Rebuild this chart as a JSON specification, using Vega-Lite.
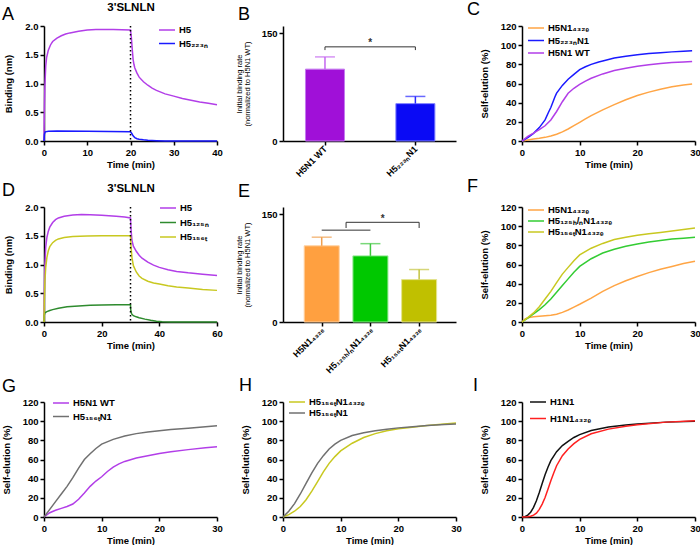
{
 "$schema": "https://vega.github.io/schema/vega-lite/v6.json",
 "padding": {"left": 1, "top": 1, "right": 0, "bottom": 0},
 "background": "white",
 "config": {
  "font": "Liberation Sans",
  "view": {"stroke": null},
  "axis": {"grid": false, "domainColor": "#000", "domainWidth": 1.5, "tickColor": "#000", "tickWidth": 1.5, "tickSize": 4, "labelFont": "Liberation Sans", "labelFontSize": 9.5, "labelFontWeight": "bold", "labelColor": "#000", "labelPadding": 2, "titleFont": "Liberation Sans", "titleFontSize": 9.5, "titleFontWeight": "bold", "titleColor": "#000", "labelFlush": false, "labelOverlap": false, "titlePadding": 3},
  "axisY": {"titlePadding": 11},
  "legend": {"labelFont": "Liberation Sans", "labelFontSize": 9.5, "labelFontWeight": "bold", "labelColor": "#000", "symbolType": "M-1.6,0H1.6", "symbolSize": 100, "symbolStrokeWidth": 1.5, "labelOffset": 6, "rowPadding": 2, "padding": 0, "orient": "none"},
  "title": {"font": "Liberation Sans", "fontSize": 18, "fontWeight": "normal", "anchor": "start", "frame": "group", "color": "#000", "baseline": "alphabetic"},
  "line": {"strokeWidth": 1.5}
 },
 "datasets": {
  "a": [
   {"s":"H5","t":0,"v":0},{"s":"H5","t":0.1,"v":0.6},{"s":"H5","t":0.2,"v":0.95},{"s":"H5","t":0.4,"v":1.3},{"s":"H5","t":0.6,"v":1.45},{"s":"H5","t":1,"v":1.58},{"s":"H5","t":1.5,"v":1.67},{"s":"H5","t":2,"v":1.73},{"s":"H5","t":3,"v":1.79},{"s":"H5","t":4,"v":1.83},{"s":"H5","t":5,"v":1.86},{"s":"H5","t":6,"v":1.88},{"s":"H5","t":8,"v":1.91},{"s":"H5","t":10,"v":1.93},{"s":"H5","t":12,"v":1.94},{"s":"H5","t":14,"v":1.94},{"s":"H5","t":16,"v":1.94},{"s":"H5","t":18,"v":1.935},{"s":"H5","t":20,"v":1.93},{"s":"H5","t":20.2,"v":1.8},{"s":"H5","t":20.4,"v":1.6},{"s":"H5","t":20.6,"v":1.42},{"s":"H5","t":20.8,"v":1.33},{"s":"H5","t":21,"v":1.27},{"s":"H5","t":21.5,"v":1.18},{"s":"H5","t":22,"v":1.11},{"s":"H5","t":23,"v":1.03},{"s":"H5","t":24,"v":0.97},{"s":"H5","t":25,"v":0.92},{"s":"H5","t":26,"v":0.88},{"s":"H5","t":28,"v":0.82},{"s":"H5","t":30,"v":0.78},{"s":"H5","t":32,"v":0.74},{"s":"H5","t":34,"v":0.71},{"s":"H5","t":36,"v":0.68},{"s":"H5","t":38,"v":0.655},{"s":"H5","t":40,"v":0.63},
   {"s":"H5₂₂₃ₙ","t":0,"v":0},{"s":"H5₂₂₃ₙ","t":0.1,"v":0.12},{"s":"H5₂₂₃ₙ","t":0.3,"v":0.16},{"s":"H5₂₂₃ₙ","t":1,"v":0.17},{"s":"H5₂₂₃ₙ","t":3,"v":0.175},{"s":"H5₂₂₃ₙ","t":10,"v":0.17},{"s":"H5₂₂₃ₙ","t":15,"v":0.165},{"s":"H5₂₂₃ₙ","t":20,"v":0.16},{"s":"H5₂₂₃ₙ","t":20.3,"v":0.13},{"s":"H5₂₂₃ₙ","t":20.6,"v":0.09},{"s":"H5₂₂₃ₙ","t":21,"v":0.06},{"s":"H5₂₂₃ₙ","t":21.5,"v":0.04},{"s":"H5₂₂₃ₙ","t":22,"v":0.03},{"s":"H5₂₂₃ₙ","t":23,"v":0.02},{"s":"H5₂₂₃ₙ","t":24,"v":0.012},{"s":"H5₂₂₃ₙ","t":26,"v":0.005},{"s":"H5₂₂₃ₙ","t":28,"v":0},{"s":"H5₂₂₃ₙ","t":40,"v":0}
  ],
  "b": [
   {"x":1,"n":"H5N1 WT","v":100,"e":117},
   {"x":2,"n":"H5₂₂₃ₙN1","v":52,"e":62}
  ],
  "bbr": [
   {"x1":1,"x2":2,"y1":131,"y2":131},
   {"x1":1,"x2":1,"y1":126.5,"y2":131},
   {"x1":2,"x2":2,"y1":126.5,"y2":131}
  ],
  "bst": [{"x":1.5,"y":136,"label":"*"}],
  "c": [
   {"s":"H5N1₄₃₂ₑ","t":0,"v":0},{"s":"H5N1₄₃₂ₑ","t":1,"v":1},{"s":"H5N1₄₃₂ₑ","t":2,"v":2},{"s":"H5N1₄₃₂ₑ","t":3,"v":2.8},{"s":"H5N1₄₃₂ₑ","t":4,"v":3.8},{"s":"H5N1₄₃₂ₑ","t":5,"v":5.2},{"s":"H5N1₄₃₂ₑ","t":6,"v":7},{"s":"H5N1₄₃₂ₑ","t":7,"v":9.5},{"s":"H5N1₄₃₂ₑ","t":8,"v":12.5},{"s":"H5N1₄₃₂ₑ","t":9,"v":16},{"s":"H5N1₄₃₂ₑ","t":10,"v":19.5},{"s":"H5N1₄₃₂ₑ","t":11,"v":23},{"s":"H5N1₄₃₂ₑ","t":12,"v":26.5},{"s":"H5N1₄₃₂ₑ","t":14,"v":32.5},{"s":"H5N1₄₃₂ₑ","t":16,"v":38},{"s":"H5N1₄₃₂ₑ","t":18,"v":43},{"s":"H5N1₄₃₂ₑ","t":20,"v":47.5},{"s":"H5N1₄₃₂ₑ","t":22,"v":51},{"s":"H5N1₄₃₂ₑ","t":24,"v":54},{"s":"H5N1₄₃₂ₑ","t":26,"v":56.5},{"s":"H5N1₄₃₂ₑ","t":28,"v":58.5},{"s":"H5N1₄₃₂ₑ","t":29.5,"v":59.5},
   {"s":"H5₂₂₃ₙN1","t":0,"v":0},{"s":"H5₂₂₃ₙN1","t":1,"v":3.5},{"s":"H5₂₂₃ₙN1","t":2,"v":8},{"s":"H5₂₂₃ₙN1","t":3,"v":14},{"s":"H5₂₂₃ₙN1","t":4,"v":22},{"s":"H5₂₂₃ₙN1","t":4.6,"v":30},{"s":"H5₂₂₃ₙN1","t":5,"v":35},{"s":"H5₂₂₃ₙN1","t":5.7,"v":46},{"s":"H5₂₂₃ₙN1","t":6,"v":50},{"s":"H5₂₂₃ₙN1","t":7,"v":58},{"s":"H5₂₂₃ₙN1","t":8,"v":64.5},{"s":"H5₂₂₃ₙN1","t":9,"v":69.5},{"s":"H5₂₂₃ₙN1","t":10,"v":74.5},{"s":"H5₂₂₃ₙN1","t":11,"v":77.5},{"s":"H5₂₂₃ₙN1","t":12,"v":80},{"s":"H5₂₂₃ₙN1","t":13.3,"v":82.5},{"s":"H5₂₂₃ₙN1","t":14,"v":83.5},{"s":"H5₂₂₃ₙN1","t":16,"v":86.5},{"s":"H5₂₂₃ₙN1","t":18,"v":88.5},{"s":"H5₂₂₃ₙN1","t":20,"v":90},{"s":"H5₂₂₃ₙN1","t":22,"v":91.2},{"s":"H5₂₂₃ₙN1","t":24,"v":92.2},{"s":"H5₂₂₃ₙN1","t":26,"v":93},{"s":"H5₂₂₃ₙN1","t":28,"v":93.7},{"s":"H5₂₂₃ₙN1","t":29.5,"v":94.2},
   {"s":"H5N1 WT","t":0,"v":0},{"s":"H5N1 WT","t":1,"v":4.8},{"s":"H5N1 WT","t":2,"v":8.3},{"s":"H5N1 WT","t":3,"v":11.8},{"s":"H5N1 WT","t":4,"v":15.9},{"s":"H5N1 WT","t":5,"v":22},{"s":"H5N1 WT","t":6,"v":30.8},{"s":"H5N1 WT","t":7,"v":41},{"s":"H5N1 WT","t":8,"v":49.8},{"s":"H5N1 WT","t":9,"v":55},{"s":"H5N1 WT","t":10,"v":59},{"s":"H5N1 WT","t":11,"v":62.5},{"s":"H5N1 WT","t":12,"v":65.5},{"s":"H5N1 WT","t":14,"v":70},{"s":"H5N1 WT","t":16,"v":73.5},{"s":"H5N1 WT","t":18,"v":76},{"s":"H5N1 WT","t":20,"v":78},{"s":"H5N1 WT","t":22,"v":79.5},{"s":"H5N1 WT","t":24,"v":80.8},{"s":"H5N1 WT","t":26,"v":81.8},{"s":"H5N1 WT","t":28,"v":82.5},{"s":"H5N1 WT","t":29.5,"v":83}
  ],
  "d": [
   {"s":"H5","t":0,"v":0},{"s":"H5","t":0.1,"v":0.5},{"s":"H5","t":0.3,"v":1.0},{"s":"H5","t":0.6,"v":1.3},{"s":"H5","t":1,"v":1.47},{"s":"H5","t":1.5,"v":1.58},{"s":"H5","t":2,"v":1.65},{"s":"H5","t":3,"v":1.73},{"s":"H5","t":4,"v":1.78},{"s":"H5","t":5,"v":1.81},{"s":"H5","t":7,"v":1.84},{"s":"H5","t":10,"v":1.86},{"s":"H5","t":13,"v":1.87},{"s":"H5","t":16,"v":1.865},{"s":"H5","t":20,"v":1.855},{"s":"H5","t":25,"v":1.84},{"s":"H5","t":28,"v":1.825},{"s":"H5","t":30,"v":1.81},{"s":"H5","t":30.2,"v":1.6},{"s":"H5","t":30.5,"v":1.42},{"s":"H5","t":31,"v":1.32},{"s":"H5","t":32,"v":1.23},{"s":"H5","t":33,"v":1.16},{"s":"H5","t":34,"v":1.11},{"s":"H5","t":36,"v":1.04},{"s":"H5","t":38,"v":0.99},{"s":"H5","t":40,"v":0.95},{"s":"H5","t":43,"v":0.91},{"s":"H5","t":46,"v":0.88},{"s":"H5","t":50,"v":0.855},{"s":"H5","t":55,"v":0.83},{"s":"H5","t":60,"v":0.81},
   {"s":"H5₁₂₅ₙ","t":0,"v":0},{"s":"H5₁₂₅ₙ","t":0.1,"v":0.12},{"s":"H5₁₂₅ₙ","t":0.3,"v":0.16},{"s":"H5₁₂₅ₙ","t":1,"v":0.18},{"s":"H5₁₂₅ₙ","t":2,"v":0.2},{"s":"H5₁₂₅ₙ","t":3,"v":0.215},{"s":"H5₁₂₅ₙ","t":5,"v":0.24},{"s":"H5₁₂₅ₙ","t":8,"v":0.265},{"s":"H5₁₂₅ₙ","t":12,"v":0.28},{"s":"H5₁₂₅ₙ","t":16,"v":0.29},{"s":"H5₁₂₅ₙ","t":20,"v":0.295},{"s":"H5₁₂₅ₙ","t":25,"v":0.298},{"s":"H5₁₂₅ₙ","t":30,"v":0.3},{"s":"H5₁₂₅ₙ","t":30.1,"v":0.2},{"s":"H5₁₂₅ₙ","t":30.4,"v":0.14},{"s":"H5₁₂₅ₙ","t":31,"v":0.11},{"s":"H5₁₂₅ₙ","t":32,"v":0.09},{"s":"H5₁₂₅ₙ","t":33,"v":0.075},{"s":"H5₁₂₅ₙ","t":35,"v":0.05},{"s":"H5₁₂₅ₙ","t":37,"v":0.03},{"s":"H5₁₂₅ₙ","t":39,"v":0.015},{"s":"H5₁₂₅ₙ","t":41,"v":0.005},{"s":"H5₁₂₅ₙ","t":44,"v":0},{"s":"H5₁₂₅ₙ","t":60,"v":0},
   {"s":"H5₁₅₆ₜ","t":0,"v":0},{"s":"H5₁₅₆ₜ","t":0.1,"v":0.35},{"s":"H5₁₅₆ₜ","t":0.3,"v":0.7},{"s":"H5₁₅₆ₜ","t":0.6,"v":0.95},{"s":"H5₁₅₆ₜ","t":1,"v":1.12},{"s":"H5₁₅₆ₜ","t":1.5,"v":1.24},{"s":"H5₁₅₆ₜ","t":2,"v":1.31},{"s":"H5₁₅₆ₜ","t":3,"v":1.38},{"s":"H5₁₅₆ₜ","t":4,"v":1.42},{"s":"H5₁₅₆ₜ","t":5,"v":1.445},{"s":"H5₁₅₆ₜ","t":7,"v":1.47},{"s":"H5₁₅₆ₜ","t":10,"v":1.485},{"s":"H5₁₅₆ₜ","t":15,"v":1.495},{"s":"H5₁₅₆ₜ","t":20,"v":1.5},{"s":"H5₁₅₆ₜ","t":25,"v":1.5},{"s":"H5₁₅₆ₜ","t":30,"v":1.5},{"s":"H5₁₅₆ₜ","t":30.2,"v":1.3},{"s":"H5₁₅₆ₜ","t":30.5,"v":1.12},{"s":"H5₁₅₆ₜ","t":31,"v":0.98},{"s":"H5₁₅₆ₜ","t":32,"v":0.87},{"s":"H5₁₅₆ₜ","t":33,"v":0.8},{"s":"H5₁₅₆ₜ","t":34,"v":0.76},{"s":"H5₁₅₆ₜ","t":36,"v":0.71},{"s":"H5₁₅₆ₜ","t":38,"v":0.68},{"s":"H5₁₅₆ₜ","t":40,"v":0.66},{"s":"H5₁₅₆ₜ","t":43,"v":0.63},{"s":"H5₁₅₆ₜ","t":46,"v":0.61},{"s":"H5₁₅₆ₜ","t":50,"v":0.59},{"s":"H5₁₅₆ₜ","t":55,"v":0.565},{"s":"H5₁₅₆ₜ","t":60,"v":0.55}
  ],
  "e": [
   {"x":1,"n":"H5N1₄₃₂ₑ","v":106,"e":118},
   {"x":2,"n":"H5₁₂₅ₕ/ₙN1₄₃₂ₑ","v":92,"e":109},
   {"x":3,"n":"H5₁₅₆ₜN1₄₃₂ₑ","v":59,"e":73}
  ],
  "ebr": [
   {"x1":1,"x2":2,"y1":127.8,"y2":127.8},
   {"x1":1.5,"x2":3,"y1":138.7,"y2":138.7},
   {"x1":1.5,"x2":1.5,"y1":130.8,"y2":138.7},
   {"x1":3,"x2":3,"y1":130.8,"y2":138.7}
  ],
  "est": [{"x":2.25,"y":144,"label":"*"}],
  "f": [
   {"s":"H5N1₄₃₂ₑ","t":0,"v":0},{"s":"H5N1₄₃₂ₑ","t":0.5,"v":3},{"s":"H5N1₄₃₂ₑ","t":1,"v":4.5},{"s":"H5N1₄₃₂ₑ","t":2,"v":5.5},{"s":"H5N1₄₃₂ₑ","t":3,"v":6},{"s":"H5N1₄₃₂ₑ","t":4,"v":6.5},{"s":"H5N1₄₃₂ₑ","t":5,"v":7},{"s":"H5N1₄₃₂ₑ","t":6,"v":8},{"s":"H5N1₄₃₂ₑ","t":7,"v":10},{"s":"H5N1₄₃₂ₑ","t":8,"v":12.5},{"s":"H5N1₄₃₂ₑ","t":9,"v":15.5},{"s":"H5N1₄₃₂ₑ","t":10,"v":18.5},{"s":"H5N1₄₃₂ₑ","t":12,"v":25},{"s":"H5N1₄₃₂ₑ","t":14,"v":32},{"s":"H5N1₄₃₂ₑ","t":16,"v":38},{"s":"H5N1₄₃₂ₑ","t":18,"v":43},{"s":"H5N1₄₃₂ₑ","t":20,"v":47.5},{"s":"H5N1₄₃₂ₑ","t":22,"v":51.5},{"s":"H5N1₄₃₂ₑ","t":24,"v":55},{"s":"H5N1₄₃₂ₑ","t":26,"v":58},{"s":"H5N1₄₃₂ₑ","t":28,"v":61},{"s":"H5N1₄₃₂ₑ","t":30,"v":63.5},
   {"s":"H5₁₂₅ₕ/ₙN1₄₃₂ₑ","t":0,"v":0},{"s":"H5₁₂₅ₕ/ₙN1₄₃₂ₑ","t":1,"v":4},{"s":"H5₁₂₅ₕ/ₙN1₄₃₂ₑ","t":2,"v":8.5},{"s":"H5₁₂₅ₕ/ₙN1₄₃₂ₑ","t":3,"v":13},{"s":"H5₁₂₅ₕ/ₙN1₄₃₂ₑ","t":4,"v":18},{"s":"H5₁₂₅ₕ/ₙN1₄₃₂ₑ","t":5,"v":24},{"s":"H5₁₂₅ₕ/ₙN1₄₃₂ₑ","t":6,"v":31},{"s":"H5₁₂₅ₕ/ₙN1₄₃₂ₑ","t":7,"v":38},{"s":"H5₁₂₅ₕ/ₙN1₄₃₂ₑ","t":8,"v":45},{"s":"H5₁₂₅ₕ/ₙN1₄₃₂ₑ","t":9,"v":52},{"s":"H5₁₂₅ₕ/ₙN1₄₃₂ₑ","t":10,"v":58},{"s":"H5₁₂₅ₕ/ₙN1₄₃₂ₑ","t":12,"v":66},{"s":"H5₁₂₅ₕ/ₙN1₄₃₂ₑ","t":14,"v":72},{"s":"H5₁₂₅ₕ/ₙN1₄₃₂ₑ","t":16,"v":76},{"s":"H5₁₂₅ₕ/ₙN1₄₃₂ₑ","t":18,"v":79},{"s":"H5₁₂₅ₕ/ₙN1₄₃₂ₑ","t":20,"v":81.5},{"s":"H5₁₂₅ₕ/ₙN1₄₃₂ₑ","t":22,"v":83.5},{"s":"H5₁₂₅ₕ/ₙN1₄₃₂ₑ","t":24,"v":85},{"s":"H5₁₂₅ₕ/ₙN1₄₃₂ₑ","t":26,"v":86.5},{"s":"H5₁₂₅ₕ/ₙN1₄₃₂ₑ","t":28,"v":87.5},{"s":"H5₁₂₅ₕ/ₙN1₄₃₂ₑ","t":30,"v":88.5},
   {"s":"H5₁₅₆ₜN1₄₃₂ₑ","t":0,"v":0},{"s":"H5₁₅₆ₜN1₄₃₂ₑ","t":1,"v":4.5},{"s":"H5₁₅₆ₜN1₄₃₂ₑ","t":2,"v":9.5},{"s":"H5₁₅₆ₜN1₄₃₂ₑ","t":3,"v":16},{"s":"H5₁₅₆ₜN1₄₃₂ₑ","t":4,"v":24},{"s":"H5₁₅₆ₜN1₄₃₂ₑ","t":5,"v":32},{"s":"H5₁₅₆ₜN1₄₃₂ₑ","t":6,"v":41},{"s":"H5₁₅₆ₜN1₄₃₂ₑ","t":7,"v":50},{"s":"H5₁₅₆ₜN1₄₃₂ₑ","t":8,"v":57},{"s":"H5₁₅₆ₜN1₄₃₂ₑ","t":9,"v":64},{"s":"H5₁₅₆ₜN1₄₃₂ₑ","t":10,"v":70},{"s":"H5₁₅₆ₜN1₄₃₂ₑ","t":12,"v":77},{"s":"H5₁₅₆ₜN1₄₃₂ₑ","t":14,"v":82},{"s":"H5₁₅₆ₜN1₄₃₂ₑ","t":16,"v":86},{"s":"H5₁₅₆ₜN1₄₃₂ₑ","t":18,"v":88.5},{"s":"H5₁₅₆ₜN1₄₃₂ₑ","t":20,"v":90.5},{"s":"H5₁₅₆ₜN1₄₃₂ₑ","t":22,"v":92},{"s":"H5₁₅₆ₜN1₄₃₂ₑ","t":24,"v":93.5},{"s":"H5₁₅₆ₜN1₄₃₂ₑ","t":26,"v":95},{"s":"H5₁₅₆ₜN1₄₃₂ₑ","t":28,"v":96.5},{"s":"H5₁₅₆ₜN1₄₃₂ₑ","t":30,"v":98}
  ],
  "g": [
   {"s":"H5N1 WT","t":0,"v":0},{"s":"H5N1 WT","t":1,"v":4.5},{"s":"H5N1 WT","t":2,"v":7},{"s":"H5N1 WT","t":3,"v":9},{"s":"H5N1 WT","t":4,"v":11},{"s":"H5N1 WT","t":5,"v":13.5},{"s":"H5N1 WT","t":6,"v":18.5},{"s":"H5N1 WT","t":7,"v":25},{"s":"H5N1 WT","t":8,"v":32},{"s":"H5N1 WT","t":9,"v":37.5},{"s":"H5N1 WT","t":10,"v":42},{"s":"H5N1 WT","t":11,"v":47.5},{"s":"H5N1 WT","t":12,"v":52},{"s":"H5N1 WT","t":13,"v":55.5},{"s":"H5N1 WT","t":14,"v":58},{"s":"H5N1 WT","t":16,"v":61.5},{"s":"H5N1 WT","t":18,"v":64},{"s":"H5N1 WT","t":20,"v":66.3},{"s":"H5N1 WT","t":22,"v":68},{"s":"H5N1 WT","t":25,"v":70.3},{"s":"H5N1 WT","t":28,"v":72.3},{"s":"H5N1 WT","t":30,"v":73.4},
   {"s":"H5₁₅₆ₜN1","t":0,"v":0},{"s":"H5₁₅₆ₜN1","t":1,"v":8},{"s":"H5₁₅₆ₜN1","t":2,"v":16},{"s":"H5₁₅₆ₜN1","t":3,"v":24},{"s":"H5₁₅₆ₜN1","t":4,"v":32},{"s":"H5₁₅₆ₜN1","t":5,"v":41},{"s":"H5₁₅₆ₜN1","t":6,"v":51},{"s":"H5₁₅₆ₜN1","t":7,"v":60},{"s":"H5₁₅₆ₜN1","t":8,"v":66},{"s":"H5₁₅₆ₜN1","t":9,"v":71.5},{"s":"H5₁₅₆ₜN1","t":10,"v":76},{"s":"H5₁₅₆ₜN1","t":12,"v":81},{"s":"H5₁₅₆ₜN1","t":14,"v":84.5},{"s":"H5₁₅₆ₜN1","t":16,"v":87},{"s":"H5₁₅₆ₜN1","t":18,"v":88.7},{"s":"H5₁₅₆ₜN1","t":20,"v":90},{"s":"H5₁₅₆ₜN1","t":22,"v":91.2},{"s":"H5₁₅₆ₜN1","t":25,"v":92.6},{"s":"H5₁₅₆ₜN1","t":28,"v":94.3},{"s":"H5₁₅₆ₜN1","t":30,"v":95.3}
  ],
  "h": [
   {"s":"H5₁₅₆ₜN1₄₃₂ₑ","t":0,"v":0},{"s":"H5₁₅₆ₜN1₄₃₂ₑ","t":1,"v":2.5},{"s":"H5₁₅₆ₜN1₄₃₂ₑ","t":2,"v":6},{"s":"H5₁₅₆ₜN1₄₃₂ₑ","t":3,"v":11},{"s":"H5₁₅₆ₜN1₄₃₂ₑ","t":4,"v":18},{"s":"H5₁₅₆ₜN1₄₃₂ₑ","t":5,"v":27},{"s":"H5₁₅₆ₜN1₄₃₂ₑ","t":6,"v":37},{"s":"H5₁₅₆ₜN1₄₃₂ₑ","t":7,"v":47},{"s":"H5₁₅₆ₜN1₄₃₂ₑ","t":8,"v":56},{"s":"H5₁₅₆ₜN1₄₃₂ₑ","t":9,"v":63},{"s":"H5₁₅₆ₜN1₄₃₂ₑ","t":10,"v":69},{"s":"H5₁₅₆ₜN1₄₃₂ₑ","t":12,"v":77},{"s":"H5₁₅₆ₜN1₄₃₂ₑ","t":14,"v":83},{"s":"H5₁₅₆ₜN1₄₃₂ₑ","t":16,"v":87},{"s":"H5₁₅₆ₜN1₄₃₂ₑ","t":18,"v":90},{"s":"H5₁₅₆ₜN1₄₃₂ₑ","t":20,"v":92},{"s":"H5₁₅₆ₜN1₄₃₂ₑ","t":22,"v":93.5},{"s":"H5₁₅₆ₜN1₄₃₂ₑ","t":25,"v":95.5},{"s":"H5₁₅₆ₜN1₄₃₂ₑ","t":28,"v":97},{"s":"H5₁₅₆ₜN1₄₃₂ₑ","t":30,"v":98},
   {"s":"H5₁₅₆ₜN1","t":0,"v":0},{"s":"H5₁₅₆ₜN1","t":1,"v":6},{"s":"H5₁₅₆ₜN1","t":2,"v":14},{"s":"H5₁₅₆ₜN1","t":3,"v":24},{"s":"H5₁₅₆ₜN1","t":4,"v":35},{"s":"H5₁₅₆ₜN1","t":5,"v":46},{"s":"H5₁₅₆ₜN1","t":6,"v":56},{"s":"H5₁₅₆ₜN1","t":7,"v":64},{"s":"H5₁₅₆ₜN1","t":8,"v":71},{"s":"H5₁₅₆ₜN1","t":9,"v":76},{"s":"H5₁₅₆ₜN1","t":10,"v":80},{"s":"H5₁₅₆ₜN1","t":12,"v":85},{"s":"H5₁₅₆ₜN1","t":14,"v":88},{"s":"H5₁₅₆ₜN1","t":16,"v":90},{"s":"H5₁₅₆ₜN1","t":18,"v":91.5},{"s":"H5₁₅₆ₜN1","t":20,"v":93},{"s":"H5₁₅₆ₜN1","t":22,"v":94},{"s":"H5₁₅₆ₜN1","t":25,"v":95.5},{"s":"H5₁₅₆ₜN1","t":28,"v":96.5},{"s":"H5₁₅₆ₜN1","t":30,"v":97}
  ],
  "i": [
   {"s":"H1N1","t":0,"v":0},{"s":"H1N1","t":0.5,"v":0.3},{"s":"H1N1","t":1,"v":2},{"s":"H1N1","t":1.5,"v":5},{"s":"H1N1","t":2,"v":10},{"s":"H1N1","t":2.5,"v":17},{"s":"H1N1","t":3,"v":25.5},{"s":"H1N1","t":3.5,"v":35},{"s":"H1N1","t":4,"v":44},{"s":"H1N1","t":4.5,"v":52},{"s":"H1N1","t":5,"v":58.8},{"s":"H1N1","t":6,"v":68.2},{"s":"H1N1","t":7,"v":74.5},{"s":"H1N1","t":8,"v":79},{"s":"H1N1","t":9,"v":83},{"s":"H1N1","t":10,"v":86},{"s":"H1N1","t":12,"v":90.3},{"s":"H1N1","t":15,"v":93.8},{"s":"H1N1","t":18,"v":96},{"s":"H1N1","t":20,"v":97},{"s":"H1N1","t":25,"v":99},{"s":"H1N1","t":30,"v":100},
   {"s":"H1N1₄₃₂ₑ","t":0,"v":0},{"s":"H1N1₄₃₂ₑ","t":1,"v":0.3},{"s":"H1N1₄₃₂ₑ","t":1.5,"v":0.8},{"s":"H1N1₄₃₂ₑ","t":2,"v":2},{"s":"H1N1₄₃₂ₑ","t":2.5,"v":4},{"s":"H1N1₄₃₂ₑ","t":3,"v":8},{"s":"H1N1₄₃₂ₑ","t":3.5,"v":13.5},{"s":"H1N1₄₃₂ₑ","t":4,"v":20.3},{"s":"H1N1₄₃₂ₑ","t":4.5,"v":29},{"s":"H1N1₄₃₂ₑ","t":5,"v":37.8},{"s":"H1N1₄₃₂ₑ","t":5.5,"v":46},{"s":"H1N1₄₃₂ₑ","t":6,"v":53.5},{"s":"H1N1₄₃₂ₑ","t":7,"v":64},{"s":"H1N1₄₃₂ₑ","t":8,"v":71},{"s":"H1N1₄₃₂ₑ","t":9,"v":76.5},{"s":"H1N1₄₃₂ₑ","t":10,"v":81},{"s":"H1N1₄₃₂ₑ","t":12,"v":86.8},{"s":"H1N1₄₃₂ₑ","t":15,"v":91.7},{"s":"H1N1₄₃₂ₑ","t":18,"v":94.7},{"s":"H1N1₄₃₂ₑ","t":20,"v":96.2},{"s":"H1N1₄₃₂ₑ","t":25,"v":99},{"s":"H1N1₄₃₂ₑ","t":30,"v":100.5}
  ]
 },
 "spacing": 2,
 "resolve": {"scale": {"color": "independent", "fill": "independent", "stroke": "independent"}},
 "vconcat": [
  {
   "columns": 3,
   "bounds": "flush",
   "spacing": {"row": 66, "column": 66},
   "resolve": {"scale": {"color": "independent", "fill": "independent", "stroke": "independent"}},
   "concat": [
    {
     "width": 173, "height": 115,
     "title": {"text": "A", "dx": -42, "offset": -23},
     "resolve": {"axis": {"x": "independent"}},
     "layer": [
      {"data": {"name": "a"}, "mark": {"type": "line", "strokeWidth": 1.5},
       "encoding": {
        "x": {"field": "t", "type": "quantitative", "scale": {"domain": [0, 40], "nice": false}, "axis": {"values": [0, 10, 20, 30, 40], "title": "Time (min)"}},
        "y": {"field": "v", "type": "quantitative", "scale": {"domain": [0, 2]}, "axis": {"values": [0, 0.5, 1, 1.5, 2], "format": ".1f", "title": "Binding (nm)"}},
        "color": {"field": "s", "type": "nominal", "scale": {"domain": ["H5", "H5₂₂₃ₙ"], "range": ["#b23ee8", "#1a1aff"]}, "legend": {"title": null, "orient": "none", "legendX": 117, "legendY": -2, "rowPadding": 2.5}}
       }},
      {"data": {"values": [{}]}, "mark": {"type": "rule", "strokeDash": [1.5, 2.5], "strokeWidth": 1.5, "color": "#000"},
       "encoding": {"x": {"datum": 20, "type": "quantitative", "axis": {"orient": "top", "title": "3'SLNLN", "labels": false, "ticks": false, "domain": false, "titleFontSize": 11.5, "titleY": -16, "titleBaseline": "alphabetic"}}}}
     ]
    },
    {
     "width": 173, "height": 115,
     "title": {"text": "B", "dx": -45, "offset": 2},
     "layer": [
      {"data": {"name": "b"}, "mark": {"type": "bar", "width": 39, "strokeWidth": 1, "orient": "vertical"},
       "encoding": {
        "x": {"field": "x", "type": "quantitative", "scale": {"domain": [0.591, 2.394], "nice": false, "zero": false}, "axis": {"values": [1, 2], "title": null, "labelAngle": -45, "labelAlign": "right", "labelBaseline": "middle", "labelFontSize": 9, "labelExpr": "datum.value == 1 ? 'H5N1 WT' : 'H5₂₂₃ₙN1'"}},
        "y": {"field": "v", "type": "quantitative", "scale": {"domain": [0, 150]}, "axis": {"values": [0, 50, 100, 150], "title": ["Initial binding rate", "(normalized to H5N1 WT)"], "titleFontSize": 7.5, "titleFontWeight": "normal", "titleLineHeight": 8, "titlePadding": 10}},
        "fill": {"field": "n", "type": "nominal", "scale": {"domain": ["H5N1 WT", "H5₂₂₃ₙN1"], "range": ["#a010d8", "#0a0af5"]}, "legend": null},
        "stroke": {"field": "n", "type": "nominal", "scale": {"domain": ["H5N1 WT", "H5₂₂₃ₙN1"], "range": ["#c47af0", "#8080ff"]}, "legend": null}
       }},
      {"data": {"name": "b"}, "mark": {"type": "rule", "strokeWidth": 1.5},
       "encoding": {
        "x": {"field": "x", "type": "quantitative", "scale": {"domain": [0.591, 2.394], "nice": false, "zero": false}},
        "y": {"field": "v", "type": "quantitative"}, "y2": {"field": "e"},
        "color": {"field": "n", "type": "nominal", "scale": {"domain": ["H5N1 WT", "H5₂₂₃ₙN1"], "range": ["#c466f0", "#2828ff"]}, "legend": null}
       }},
      {"data": {"name": "b"}, "mark": {"type": "tick", "orient": "horizontal", "size": 20, "thickness": 1.5},
       "encoding": {
        "x": {"field": "x", "type": "quantitative", "scale": {"domain": [0.591, 2.394], "nice": false, "zero": false}},
        "y": {"field": "e", "type": "quantitative"},
        "color": {"field": "n", "type": "nominal", "scale": {"domain": ["H5N1 WT", "H5₂₂₃ₙN1"], "range": ["#c466f0", "#2828ff"]}, "legend": null}
       }},
      {"data": {"name": "bbr"}, "mark": {"type": "rule", "color": "#333", "strokeWidth": 1},
       "encoding": {"x": {"field": "x1", "type": "quantitative"}, "x2": {"field": "x2"}, "y": {"field": "y1", "type": "quantitative"}, "y2": {"field": "y2"}}},
      {"data": {"name": "bst"}, "mark": {"type": "text", "fontSize": 10, "fontWeight": "bold", "baseline": "middle", "color": "#333"},
       "encoding": {"x": {"field": "x", "type": "quantitative"}, "y": {"field": "y", "type": "quantitative"}, "text": {"field": "label"}}}
     ]
    },
    {
     "width": 173, "height": 115,
     "title": {"text": "C", "dx": -55, "offset": 2},
     "data": {"name": "c"},
     "mark": {"type": "line", "strokeWidth": 1.5},
     "encoding": {
      "x": {"field": "t", "type": "quantitative", "scale": {"domain": [0, 30], "nice": false}, "axis": {"values": [0, 10, 20, 30], "title": "Time (min)"}},
      "y": {"field": "v", "type": "quantitative", "scale": {"domain": [0, 120]}, "axis": {"values": [0, 20, 40, 60, 80, 100, 120], "title": "Self-elution (%)"}},
      "color": {"field": "s", "type": "nominal", "scale": {"domain": ["H5N1₄₃₂ₑ", "H5₂₂₃ₙN1", "H5N1 WT"], "range": ["#ffa545", "#1a1aff", "#b23ee8"]}, "legend": {"title": null, "orient": "none", "legendX": 8, "legendY": -4, "rowPadding": 1.5}}
     }
    },
    {
     "width": 173, "height": 115,
     "title": {"text": "D", "dx": -42, "offset": -17.5},
     "resolve": {"axis": {"x": "independent"}},
     "layer": [
      {"data": {"name": "d"}, "mark": {"type": "line", "strokeWidth": 1.5},
       "encoding": {
        "x": {"field": "t", "type": "quantitative", "scale": {"domain": [0, 60], "nice": false}, "axis": {"values": [0, 20, 40, 60], "title": "Time (min)"}},
        "y": {"field": "v", "type": "quantitative", "scale": {"domain": [0, 2]}, "axis": {"values": [0, 0.5, 1, 1.5, 2], "format": ".1f", "title": "Binding (nm)"}},
        "color": {"field": "s", "type": "nominal", "scale": {"domain": ["H5", "H5₁₂₅ₙ", "H5₁₅₆ₜ"], "range": ["#b23ee8", "#2e8b2e", "#c8c820"]}, "legend": {"title": null, "orient": "none", "legendX": 118, "legendY": -5, "rowPadding": 3.5}}
       }},
      {"data": {"values": [{}]}, "mark": {"type": "rule", "strokeDash": [1.5, 2.5], "strokeWidth": 1.5, "color": "#000"},
       "encoding": {"x": {"datum": 30, "type": "quantitative", "axis": {"orient": "top", "title": "3'SLNLN", "labels": false, "ticks": false, "domain": false, "titleFontSize": 11.5, "titleY": -16, "titleBaseline": "alphabetic"}}}}
     ]
    },
    {
     "width": 173, "height": 115,
     "title": {"text": "E", "dx": -45, "offset": 6},
     "layer": [
      {"data": {"name": "e"}, "mark": {"type": "bar", "width": 35, "strokeWidth": 1, "orient": "vertical"},
       "encoding": {
        "x": {"field": "x", "type": "quantitative", "scale": {"domain": [0.308, 3.654], "nice": false, "zero": false}, "axis": {"values": [1, 2, 3], "title": null, "labelAngle": -45, "labelAlign": "right", "labelBaseline": "middle", "labelFontSize": 9, "labelExpr": "datum.value == 1 ? 'H5N1₄₃₂ₑ' : datum.value == 2 ? 'H5₁₂₅ₕ/ₙN1₄₃₂ₑ' : 'H5₁₅₆ₜN1₄₃₂ₑ'"}},
        "y": {"field": "v", "type": "quantitative", "scale": {"domain": [0, 150]}, "axis": {"values": [0, 50, 100, 150], "title": ["Initial binding rate", "(normalized to H5N1 WT)"], "titleFontSize": 7.5, "titleFontWeight": "normal", "titleLineHeight": 8, "titlePadding": 10}},
        "fill": {"field": "n", "type": "nominal", "scale": {"domain": ["H5N1₄₃₂ₑ", "H5₁₂₅ₕ/ₙN1₄₃₂ₑ", "H5₁₅₆ₜN1₄₃₂ₑ"], "range": ["#ffa040", "#00c800", "#c0c000"]}, "legend": null},
        "stroke": {"field": "n", "type": "nominal", "scale": {"domain": ["H5N1₄₃₂ₑ", "H5₁₂₅ₕ/ₙN1₄₃₂ₑ", "H5₁₅₆ₜN1₄₃₂ₑ"], "range": ["#ffd0a0", "#90e890", "#e4e490"]}, "legend": null}
       }},
      {"data": {"name": "e"}, "mark": {"type": "rule", "strokeWidth": 1.5},
       "encoding": {
        "x": {"field": "x", "type": "quantitative", "scale": {"domain": [0.308, 3.654], "nice": false, "zero": false}},
        "y": {"field": "v", "type": "quantitative"}, "y2": {"field": "e"},
        "color": {"field": "n", "type": "nominal", "scale": {"domain": ["H5N1₄₃₂ₑ", "H5₁₂₅ₕ/ₙN1₄₃₂ₑ", "H5₁₅₆ₜN1₄₃₂ₑ"], "range": ["#f0a050", "#40c840", "#c4c440"]}, "legend": null}
       }},
      {"data": {"name": "e"}, "mark": {"type": "tick", "orient": "horizontal", "size": 20, "thickness": 1.5},
       "encoding": {
        "x": {"field": "x", "type": "quantitative", "scale": {"domain": [0.308, 3.654], "nice": false, "zero": false}},
        "y": {"field": "e", "type": "quantitative"},
        "color": {"field": "n", "type": "nominal", "scale": {"domain": ["H5N1₄₃₂ₑ", "H5₁₂₅ₕ/ₙN1₄₃₂ₑ", "H5₁₅₆ₜN1₄₃₂ₑ"], "range": ["#f0a050", "#40c840", "#c4c440"]}, "legend": null}
       }},
      {"data": {"name": "ebr"}, "mark": {"type": "rule", "color": "#333", "strokeWidth": 1},
       "encoding": {"x": {"field": "x1", "type": "quantitative"}, "x2": {"field": "x2"}, "y": {"field": "y1", "type": "quantitative"}, "y2": {"field": "y2"}}},
      {"data": {"name": "est"}, "mark": {"type": "text", "fontSize": 10, "fontWeight": "bold", "baseline": "middle", "color": "#333"},
       "encoding": {"x": {"field": "x", "type": "quantitative"}, "y": {"field": "y", "type": "quantitative"}, "text": {"field": "label"}}}
     ]
    },
    {
     "width": 173, "height": 115,
     "title": {"text": "F", "dx": -55, "offset": 6},
     "data": {"name": "f"},
     "mark": {"type": "line", "strokeWidth": 1.5},
     "encoding": {
      "x": {"field": "t", "type": "quantitative", "scale": {"domain": [0, 30], "nice": false}, "axis": {"values": [0, 10, 20, 30], "title": "Time (min)"}},
      "y": {"field": "v", "type": "quantitative", "scale": {"domain": [0, 120]}, "axis": {"values": [0, 20, 40, 60, 80, 100, 120], "title": "Self-elution (%)"}},
      "color": {"field": "s", "type": "nominal", "scale": {"domain": ["H5N1₄₃₂ₑ", "H5₁₂₅ₕ/ₙN1₄₃₂ₑ", "H5₁₅₆ₜN1₄₃₂ₑ"], "range": ["#ffa545", "#33cc33", "#c8c820"]}, "legend": {"title": null, "orient": "none", "legendX": 8, "legendY": -3, "rowPadding": -1}}
     }
    }
   ]
  },
  {
   "bounds": "flush",
   "spacing": 66,
   "resolve": {"scale": {"color": "independent", "fill": "independent", "stroke": "independent"}},
   "hconcat": [
    {
     "width": 173, "height": 115,
     "title": {"text": "G", "dx": -42, "offset": 1},
     "data": {"name": "g"},
     "mark": {"type": "line", "strokeWidth": 1.5},
     "encoding": {
      "x": {"field": "t", "type": "quantitative", "scale": {"domain": [0, 30], "nice": false}, "axis": {"values": [0, 10, 20, 30], "title": "Time (min)"}},
      "y": {"field": "v", "type": "quantitative", "scale": {"domain": [0, 120]}, "axis": {"values": [0, 20, 40, 60, 80, 100, 120], "title": "Self-elution (%)"}},
      "color": {"field": "s", "type": "nominal", "scale": {"domain": ["H5N1 WT", "H5₁₅₆ₜN1"], "range": ["#b23ee8", "#707070"]}, "legend": {"title": null, "orient": "none", "legendX": 11, "legendY": -5, "rowPadding": 2.5}}
     }
    },
    {
     "width": 173, "height": 115,
     "title": {"text": "H", "dx": -44, "offset": 1},
     "data": {"name": "h"},
     "mark": {"type": "line", "strokeWidth": 1.5},
     "encoding": {
      "x": {"field": "t", "type": "quantitative", "scale": {"domain": [0, 30], "nice": false}, "axis": {"values": [0, 10, 20, 30], "title": "Time (min)"}},
      "y": {"field": "v", "type": "quantitative", "scale": {"domain": [0, 120]}, "axis": {"values": [0, 20, 40, 60, 80, 100, 120], "title": "Self-elution (%)"}},
      "color": {"field": "s", "type": "nominal", "scale": {"domain": ["H5₁₅₆ₜN1₄₃₂ₑ", "H5₁₅₆ₜN1"], "range": ["#c8c820", "#707070"]}, "legend": {"title": null, "orient": "none", "legendX": 8, "legendY": -6, "rowPadding": -0.5}}
     }
    },
    {
     "width": 173, "height": 115,
     "title": {"text": "I", "dx": -49, "offset": 1},
     "data": {"name": "i"},
     "mark": {"type": "line", "strokeWidth": 1.5},
     "encoding": {
      "x": {"field": "t", "type": "quantitative", "scale": {"domain": [0, 30], "nice": false}, "axis": {"values": [0, 10, 20, 30], "title": "Time (min)"}},
      "y": {"field": "v", "type": "quantitative", "scale": {"domain": [0, 120]}, "axis": {"values": [0, 20, 40, 60, 80, 100, 120], "title": "Self-elution (%)"}},
      "color": {"field": "s", "type": "nominal", "scale": {"domain": ["H1N1", "H1N1₄₃₂ₑ"], "range": ["#111111", "#ff2020"]}, "legend": {"title": null, "orient": "none", "legendX": 10, "legendY": -6, "rowPadding": 5.5}}
     }
    }
   ]
  }
 ]
}
